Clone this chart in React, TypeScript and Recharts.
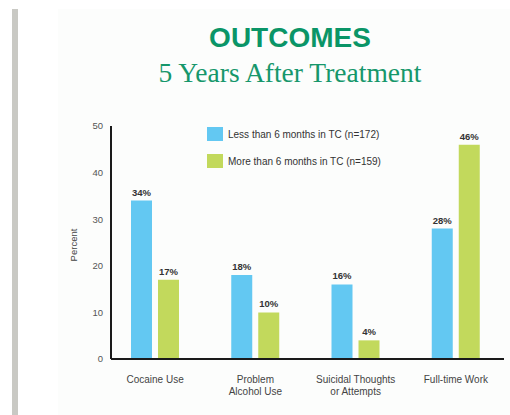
import React from 'react';
import { BarChart, Bar, XAxis, YAxis, LabelList } from 'recharts';

const categories = ['Cocaine Use', 'Problem\nAlcohol Use', 'Suicidal Thoughts\nor Attempts', 'Full-time Work'];
const lessThan6 = [34, 18, 16, 28];
const moreThan6 = [17, 10, 4, 46];
const yTicks = [0, 10, 20, 30, 40, 50];

const seriesNames = {
  less: 'Less than 6 months in TC (n=172)',
  more: 'More than 6 months in TC (n=159)',
};

const BLUE = '#63c8f2';
const GREEN = '#c2d95c';
const FONT = '"Liberation Sans", Arial, sans-serif';

const data = categories.map((name, i) => ({
  name,
  less: lessThan6[i],
  more: moreThan6[i],
}));

const CategoryTick = (props: any) => {
  const { x, y, payload } = props;
  const lines = String(payload.value).split('\n');
  return (
    <text x={x} y={y + 16} textAnchor="middle" fontSize={10} fill="#444" fontFamily={FONT}>
      {lines.map((line, i) => (
        <tspan key={i} x={x} dy={i === 0 ? 0 : 12}>
          {line}
        </tspan>
      ))}
    </text>
  );
};

const LegendBox = () => (
  <div style={{ fontFamily: FONT, fontSize: 10, color: '#333' }}>
    {[
      { color: BLUE, label: seriesNames.less },
      { color: GREEN, label: seriesNames.more },
    ].map((item) => (
      <div key={item.label} style={{ display: 'flex', alignItems: 'center', height: 14, marginBottom: 13 }}>
        <span style={{ width: 16, height: 14, background: item.color, marginRight: 5 }} />
        <span>{item.label}</span>
      </div>
    ))}
  </div>
);

export default function App() {
  return (
    <div style={{ position: 'absolute', left: 0, top: 0, width: 510, height: 415, background: '#fff', overflow: 'hidden' }}>
      <div style={{ position: 'absolute', left: 12, top: 9, width: 6, height: 406, background: '#c9c9c4' }} />
      <div style={{ position: 'absolute', left: 58, top: 9, width: 452, height: 406, background: '#fcfdfc' }} />
      <svg width={510} height={415} style={{ position: 'absolute', left: 0, top: 0 }}>
        <text x={290} y={47} textAnchor="middle" fontFamily={FONT} fontWeight="bold" fontSize={28} fill="#0a9567">
          OUTCOMES
        </text>
        <text x={290} y={82} textAnchor="middle" fontFamily='"Liberation Serif", "Times New Roman", serif' fontSize={27.5} fill="#16976b">
          5 Years After Treatment
        </text>
        <text
          x={77}
          y={245}
          transform="rotate(-90 77 245)"
          textAnchor="middle"
          fontFamily={FONT}
          fontSize={9.5}
          fill="#444"
        >
          Percent
        </text>
      </svg>
      <div style={{ position: 'absolute', left: 0, top: 0 }}>
        <BarChart
          width={510}
          height={415}
          data={data}
          margin={{ top: 126, right: 6, left: 71, bottom: 16 }}
          barSize={21}
          barGap={6}
        >
          <XAxis
            dataKey="name"
            height={40}
            tick={<CategoryTick />}
            tickLine={false}
            axisLine={{ stroke: '#1a1a1a', strokeWidth: 2 }}
            padding={{ left: -6, right: -2 }}
            interval={0}
          />
          <YAxis
            width={40}
            domain={[0, 50]}
            ticks={yTicks}
            tickLine={false}
            axisLine={{ stroke: '#1a1a1a', strokeWidth: 2 }}
            tick={{ fontSize: 9.5, fill: '#555', fontFamily: FONT }}
          />
          <Bar dataKey="less" name={seriesNames.less} fill={BLUE} isAnimationActive={false}>
            <LabelList
              dataKey="less"
              position="top"
              offset={5}
              formatter={(v: any) => `${v}%`}
              style={{ fontSize: 9.5, fontWeight: 'bold', fill: '#333', fontFamily: FONT }}
            />
          </Bar>
          <Bar dataKey="more" name={seriesNames.more} fill={GREEN} isAnimationActive={false}>
            <LabelList
              dataKey="more"
              position="top"
              offset={5}
              formatter={(v: any) => `${v}%`}
              style={{ fontSize: 9.5, fontWeight: 'bold', fill: '#333', fontFamily: FONT }}
            />
          </Bar>
        </BarChart>
      </div>
      <div style={{ position: 'absolute', left: 207, top: 127 }}>
        <LegendBox />
      </div>
    </div>
  );
}
